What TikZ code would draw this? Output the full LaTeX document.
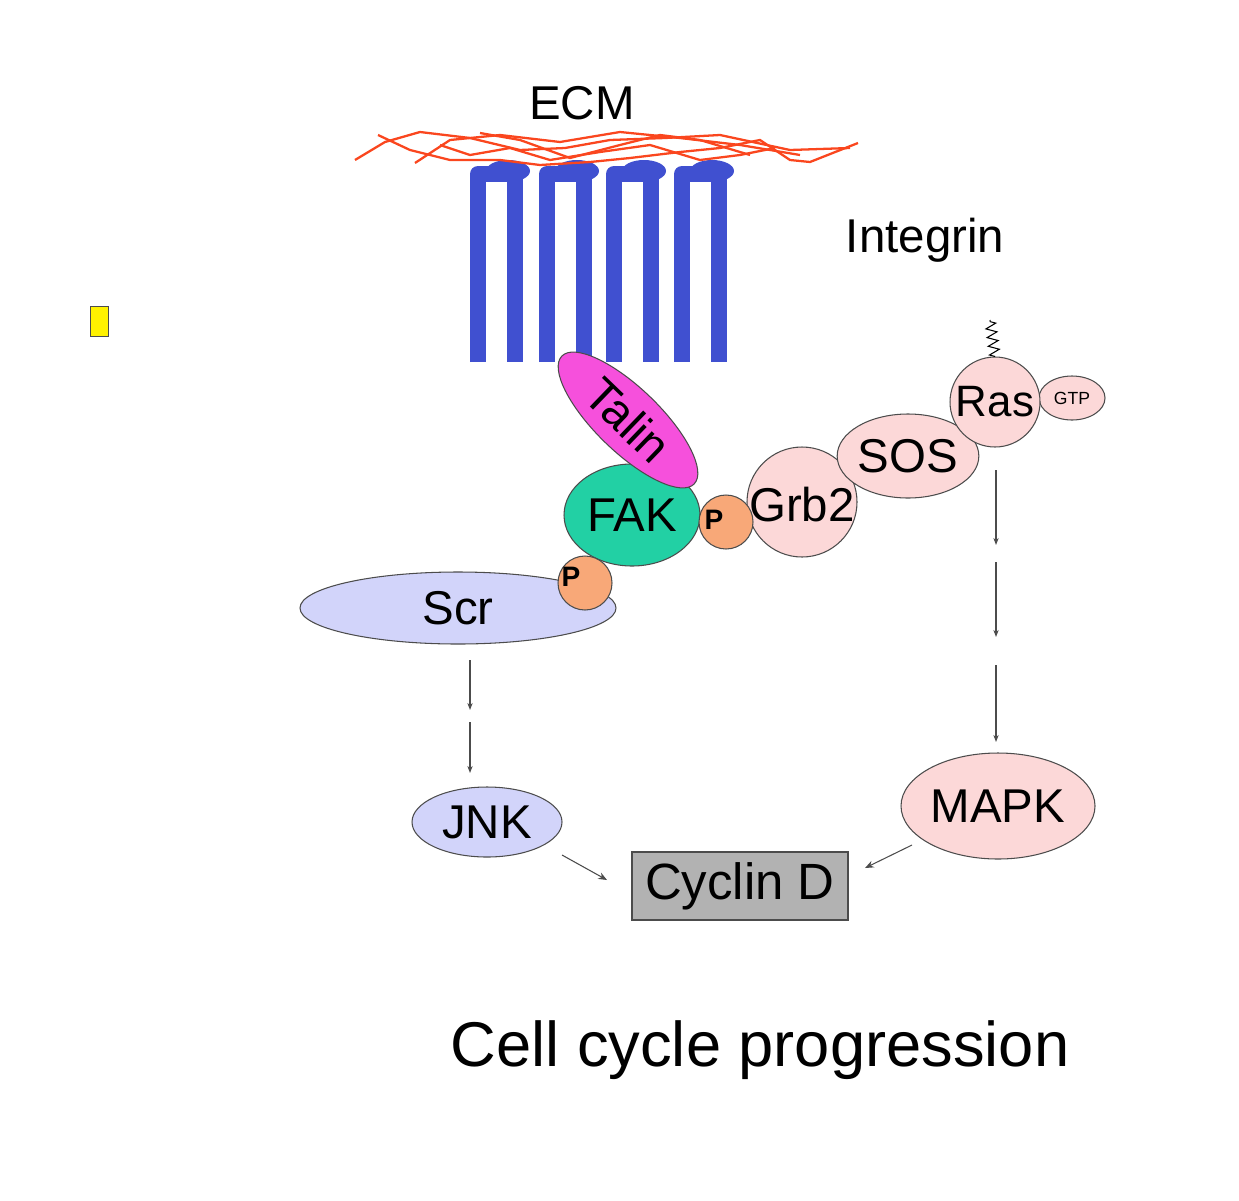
\documentclass[tikz,border=0pt]{standalone}
\usepackage{fontspec}
\setmainfont{Liberation Sans}
\usetikzlibrary{decorations.pathmorphing,arrows.meta,shapes.geometric}
\begin{document}
\begin{tikzpicture}[x=0.02cm,y=-0.02cm,
  prot/.style={draw=black!70,line width=0.6pt,inner sep=0pt},
  lbl/.style={font=\fontsize{27}{30}\selectfont},
  pp/.style={prot,circle,fill=pcol,minimum size=54*0.02cm},
  integ/.style={line width=16*0.02cm,draw=intc},
  ecm/.style={draw=ecmc,line width=1.3pt},
  seg/.style={draw=black!70,line width=0.6pt,-{Stealth[length=4pt,width=3pt]}},
  conn/.style={draw=black!70,line width=0.6pt,-{Stealth[length=5pt,width=4pt]}}]
\definecolor{intc}{RGB}{64,80,208}
\definecolor{ecmc}{RGB}{250,70,30}
\definecolor{pcol}{RGB}{248,168,120}
\definecolor{pinkc}{RGB}{252,216,216}
\definecolor{lav}{RGB}{210,212,250}
\definecolor{fakc}{RGB}{34,208,164}
\definecolor{talc}{RGB}{246,80,220}
\useasboundingbox (0,0) rectangle (1239,1200);
% yellow marker
\fill[yellow,draw=black!70] (90,306) rectangle (108,336);
% integrins
\foreach \x in {478,547,614,682}{
  \draw[integ,line join=round] (\x,362)--(\x,174)--(\x+37,174)--(\x+37,362);
  \fill[intc] (\x+30,171) ellipse (22 and 11);
}
% ECM
\draw[ecm] (355,160)--(385,142)--(420,132)--(470,138)--(520,150)--(565,148)--(610,140)--(665,138)--(720,135)--(790,150)--(850,148);
\draw[ecm] (378,135)--(410,150)--(450,160)--(500,160)--(540,165)--(590,162)--(630,158)--(680,152)--(720,148)--(760,140)--(790,160)--(810,162)--(858,143);
\draw[ecm] (415,163)--(450,140)--(500,135)--(560,142)--(620,132)--(680,138)--(740,145)--(800,155);
\draw[ecm] (440,145)--(470,155)--(510,148)--(550,160)--(600,152)--(650,145)--(700,160)--(740,155)--(775,148);
\draw[ecm] (480,133)--(520,140)--(570,158)--(620,145)--(660,135)--(700,140)--(750,155);
\node[lbl] (ecmlbl) at (582,103) {ECM};
\node[lbl] (integrin) at (925,240) {Integrin};
% proteins
\node[prot,ellipse,fill=lav,minimum width=316*0.02cm,minimum height=72*0.02cm,lbl] (scr) at (458,608) {Scr};
\node[prot,ellipse,fill=fakc,minimum width=136*0.02cm,minimum height=102*0.02cm,lbl] (fak) at (632,515) {FAK};
\node[prot,ellipse,fill=talc,minimum width=184*0.02cm,minimum height=64*0.02cm,rotate=-44,lbl] (talin) at (628,420) {Talin};
\node[pp] (p2) at (585,583) {};
\node[font=\bfseries\fontsize{16}{18}\selectfont] (p2lbl) at (571,577) {P};
\node[prot,circle,fill=pinkc,minimum size=110*0.02cm] (grb2) at (802,502) {};
\node[pp] (p1) at (726,522) {};
\node[font=\bfseries\fontsize{16}{18}\selectfont] (p1lbl) at (714,520) {P};
\node[lbl] (grb2lbl) at (802,505) {Grb2};
\node[prot,ellipse,fill=pinkc,minimum width=130*0.02cm,minimum height=84*0.02cm,lbl] (sos) at (908,456) {SOS};
\node[prot,ellipse,fill=pinkc,minimum width=66*0.02cm,minimum height=44*0.02cm,font=\fontsize{10}{12}\selectfont] (gtp) at (1072,398) {GTP};
\node[prot,circle,fill=pinkc,minimum size=90*0.02cm,font=\fontsize{25}{28}\selectfont] (ras) at (995,402) {Ras};
\node[prot,ellipse,fill=lav,minimum width=150*0.02cm,minimum height=70*0.02cm,lbl] (jnk) at (487,822) {JNK};
\node[prot,ellipse,fill=pinkc,minimum width=194*0.02cm,minimum height=106*0.02cm,lbl] (mapk) at (998,806) {MAPK};
\node[draw=black!70,line width=0.6pt,fill=black!30,minimum width=216*0.02cm,minimum height=68*0.02cm,inner sep=0pt,font=\fontsize{29}{32}\selectfont] (cyc) at (740,886) {Cyclin D};
\node[font=\fontsize{36}{40}\selectfont] (ccp) at (760,1050) {Cell cycle progression};
% lipid anchor
\coordinate (anc) at (990,320);
\draw[black,line width=0.6pt,decorate,decoration={zigzag,amplitude=3pt,segment length=5pt}] (ras.north) -- (anc);
% dashed arrows
\coordinate (a1) at (470,660); \coordinate (a2) at (470,710);
\coordinate (a3) at (470,722); \coordinate (a4) at (470,773);
\draw[seg] (a1)--(a2); \draw[seg] (a3)--(a4);
\coordinate (b1) at (996,470); \coordinate (b2) at (996,545);
\coordinate (b3) at (996,562); \coordinate (b4) at (996,637);
\coordinate (b5) at (996,665); \coordinate (b6) at (996,742);
\draw[seg] (b1)--(b2); \draw[seg] (b3)--(b4); \draw[seg] (b5)--(b6);
\coordinate (j1) at (562,855); \coordinate (j2) at (607,880);
\coordinate (m1) at (912,845); \coordinate (m2) at (865,868);
\draw[conn] (j1) -- (j2);
\draw[conn] (m1) -- (m2);
\end{tikzpicture}
\end{document}
